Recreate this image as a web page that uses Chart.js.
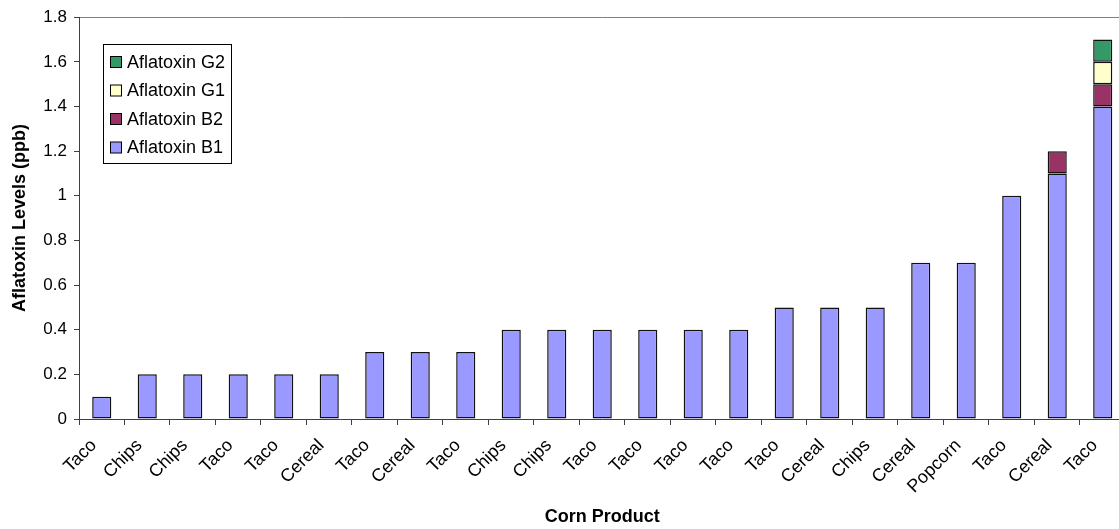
<!DOCTYPE html>
<html>
<head>
<meta charset="utf-8">
<script src="https://cdn.jsdelivr.net/npm/chart.js@4/dist/chart.umd.min.js"></script>
<style>
  html, body { margin: 0; padding: 0; background: #fff; overflow: hidden; }
  #wrap { width: 1128px; height: 529px; }
</style>
</head>
<body>
<div id="wrap"><canvas id="aflatoxin" width="1128" height="529"></canvas></div>
<script>
const products = ["Taco", "Chips", "Chips", "Taco", "Taco", "Cereal", "Taco", "Cereal", "Taco", "Chips", "Chips",
  "Taco", "Taco", "Taco", "Taco", "Taco", "Cereal", "Chips", "Cereal", "Popcorn", "Taco", "Cereal", "Taco"];
const b1 = [0.1, 0.2, 0.2, 0.2, 0.2, 0.2, 0.3, 0.3, 0.3, 0.4, 0.4, 0.4, 0.4, 0.4, 0.4, 0.5, 0.5, 0.5, 0.7, 0.7, 1.0, 1.1, 1.4];
const b2 = [null, null, null, null, null, null, null, null, null, null, null, null, null, null, null, null, null, null, null, null, null, 0.1, 0.1];
const g1 = [null, null, null, null, null, null, null, null, null, null, null, null, null, null, null, null, null, null, null, null, null, null, 0.1];
const g2 = [null, null, null, null, null, null, null, null, null, null, null, null, null, null, null, null, null, null, null, null, null, null, 0.1];
const yTickLabels = ["0", "0.2", "0.4", "0.6", "0.8", "1", "1.2", "1.4", "1.6", "1.8"];

const font = "'Liberation Sans', Arial, sans-serif";

function series(label, data, color) {
  return {
    label: label,
    data: data,
    backgroundColor: color,
    borderColor: "#111",
    borderWidth: 1.5,
    borderSkipped: false,
    barPercentage: 0.42,
    categoryPercentage: 1,
  };
}

// legend box drawn inside the plot, like the original
const boxLegend = {
  id: "boxLegend",
  afterDraw(chart) {
    const c = chart.ctx;
    const x = 103.5, y = 44.5, w = 128, h = 119;
    c.save();
    c.fillStyle = "#fff";
    c.fillRect(x, y, w, h);
    c.strokeStyle = "#000";
    c.lineWidth = 1;
    c.strokeRect(x, y, w, h);
    c.font = "18px " + font;
    c.textBaseline = "middle";
    const items = chart.data.datasets.slice().reverse();
    items.forEach((ds, i) => {
      const cy = 62 + i * 28.5;
      c.fillStyle = ds.backgroundColor;
      c.fillRect(110.5, cy - 5.5, 11, 11);
      c.strokeStyle = "#000";
      c.strokeRect(110.5, cy - 5.5, 11, 11);
      c.fillStyle = "#000";
      c.fillText(ds.label, 127, cy + 1);
    });
    c.restore();
  },
};

const config = {
  type: "bar",
  data: {
    labels: products,
    datasets: [
      series("Aflatoxin B1", b1, "#9999FF"),
      series("Aflatoxin B2", b2, "#993366"),
      series("Aflatoxin G1", g1, "#FFFFCC"),
      series("Aflatoxin G2", g2, "#339966"),
    ],
  },
  options: {
    responsive: false,
    animation: false,
    layout: { padding: { top: 15, left: 0, right: 0, bottom: 0 } },
    plugins: { legend: { display: false }, tooltip: { enabled: false } },
    scales: {
      x: {
        stacked: true,
        afterFit: (s) => { s.height = 110; },
        border: { color: "#404040", width: 1 },
        grid: { drawOnChartArea: false, tickLength: 6, tickColor: "#404040" },
        ticks: {
          color: "#000",
          font: { family: font, size: 18 },
          minRotation: 45,
          maxRotation: 45,
          autoSkip: false,
          padding: 10,
          labelOffset: -8,
        },
        title: {
          display: true,
          text: "Corn Product",
          color: "#000",
          font: { family: font, size: 18, weight: "bold" },
          padding: { top: 0, bottom: 1 },
        },
      },
      y: {
        stacked: true,
        min: 0,
        max: 1.8,
        afterFit: (s) => { s.width = 79; },
        border: { color: "#404040", width: 1 },
        grid: {
          color: (ctx) => (ctx.index === yTickLabels.length - 1 ? "#808080" : "transparent"),
          tickColor: "#404040",
          tickLength: 5,
        },
        ticks: {
          stepSize: 0.2,
          color: "#000",
          font: { family: font, size: 17 },
          padding: 7,
          callback: (value, index) => yTickLabels[index],
        },
        title: {
          display: true,
          text: "Aflatoxin Levels (ppb)",
          color: "#000",
          font: { family: font, size: 18, weight: "bold" },
          padding: { top: 9, bottom: 0 },
        },
      },
    },
  },
  plugins: [boxLegend],
};

const chart = new Chart(document.getElementById("aflatoxin"), config);
</script>
</body>
</html>
